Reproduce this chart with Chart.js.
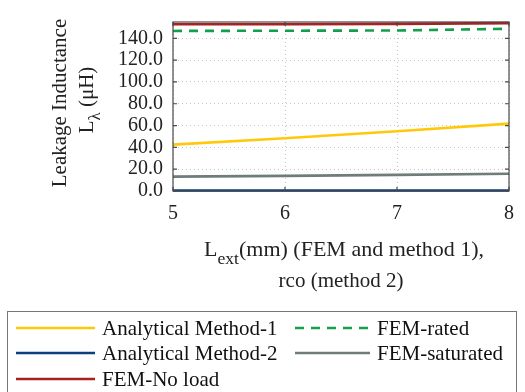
<!DOCTYPE html>
<html>
<head>
<meta charset="utf-8">
<script src="https://cdn.jsdelivr.net/npm/chart.js@4/dist/chart.umd.min.js"></script>
<style>
  html, body { margin: 0; padding: 0; background: #fff; overflow: hidden; }
</style>
</head>
<body>
<canvas id="chart" width="525" height="392"></canvas>
<script>
const xValues = [5, 6, 7, 8];
const method1 = [42.5, 48.4, 54.8, 61.8];
const method2 = [0.4, 0.4, 0.4, 0.4];
const femNoLoad = [153.0, 153.0, 153.3, 154.0];
const femRated = [146.8, 147.0, 147.2, 148.8];
const femSaturated = [13.2, 13.9, 14.8, 15.8];

const seriesNames = ['Analytical Method-1', 'Analytical Method-2', 'FEM-No load', 'FEM-rated', 'FEM-saturated'];
const seriesColors = ['#ffc90a', '#0c3d7e', '#a8201f', '#13a04b', '#6f7c7b'];

const FONT = '"Liberation Serif", "DejaVu Serif", serif';

function toPoints(values) {
    return values.map((v, i) => ({ x: xValues[i], y: v }));
}

// dark box with inward tick marks around the plot area
const boxPlugin = {
    id: 'box',
    afterDatasetsDraw(chart) {
        const { ctx, chartArea: a, scales } = chart;
        ctx.save();
        ctx.strokeStyle = '#4a4a4a';
        ctx.lineWidth = 1.2;
        ctx.strokeRect(a.left, a.top, a.right - a.left, a.bottom - a.top);
        ctx.beginPath();
        scales.y.ticks.forEach(t => {
            const py = scales.y.getPixelForValue(t.value);
            ctx.moveTo(a.left, py); ctx.lineTo(a.left + 4, py);
            ctx.moveTo(a.right, py); ctx.lineTo(a.right - 4, py);
        });
        scales.x.ticks.forEach(t => {
            const px = scales.x.getPixelForValue(t.value);
            ctx.moveTo(px, a.bottom); ctx.lineTo(px, a.bottom - 4);
            ctx.moveTo(px, a.top); ctx.lineTo(px, a.top + 4);
        });
        ctx.stroke();
        ctx.restore();
    }
};

// centred text made of pieces, some of them subscripts
function subText(ctx, parts, cx, cy, size) {
    let total = 0;
    const widths = parts.map(p => {
        ctx.font = (p.sub ? size * 0.8 : size) + 'px ' + FONT;
        const w = ctx.measureText(p.t).width;
        total += w;
        return w;
    });
    let x = cx - total / 2;
    parts.forEach((p, i) => {
        ctx.font = (p.sub ? size * 0.8 : size) + 'px ' + FONT;
        ctx.fillText(p.t, x, cy + (p.sub ? size * 0.42 : 0));
        x += widths[i];
    });
}

const titlesPlugin = {
    id: 'titles',
    afterDraw(chart) {
        const { ctx, chartArea: a } = chart;
        const cx = (a.left + a.right) / 2;
        ctx.save();
        ctx.fillStyle = '#222';
        ctx.textBaseline = 'middle';
        ctx.textAlign = 'left';
        subText(ctx, [{ t: 'L' }, { t: 'ext', sub: true }, { t: '(mm) (FEM and method 1),' }], cx + 3, 250, 22);
        subText(ctx, [{ t: 'rco (method 2)' }], cx, 281, 21);

        ctx.translate(60, 103);
        ctx.rotate(-Math.PI / 2);
        subText(ctx, [{ t: 'Leakage Inductance' }], 0, 0, 21);
        ctx.restore();

        ctx.save();
        ctx.fillStyle = '#222';
        ctx.textBaseline = 'middle';
        ctx.textAlign = 'left';
        ctx.translate(87, 100);
        ctx.rotate(-Math.PI / 2);
        subText(ctx, [{ t: 'L' }, { t: 'λ', sub: true }, { t: ' (μH)' }], 0, 0, 21);
        ctx.restore();
    }
};

// two-column boxed legend under the chart
const legendPlugin = {
    id: 'boxLegend',
    afterDraw(chart) {
        const { ctx } = chart;
        const ds = chart.data.datasets;
        const slots = [
            { col: 0, row: 0 }, { col: 0, row: 1 }, { col: 0, row: 2 },
            { col: 1, row: 0 }, { col: 1, row: 1 }
        ];
        const colX = [16, 295];
        const lineLen = [79, 75];
        const rowY = [328, 353, 379];
        ctx.save();
        ctx.strokeStyle = '#777';
        ctx.lineWidth = 1;
        ctx.strokeRect(7.5, 311.5, 509, 90);
        ctx.font = '21px ' + FONT;
        ctx.textBaseline = 'middle';
        ctx.textAlign = 'left';
        ctx.fillStyle = '#111';
        ds.forEach((d, i) => {
            const s = slots[i];
            const x = colX[s.col];
            const y = rowY[s.row];
            ctx.strokeStyle = d.borderColor;
            ctx.lineWidth = 2.6;
            ctx.setLineDash(d.borderDash || []);
            ctx.beginPath();
            ctx.moveTo(x, y);
            ctx.lineTo(x + lineLen[s.col], y);
            ctx.stroke();
            ctx.setLineDash([]);
            ctx.fillText(d.label, x + lineLen[s.col] + 7, y + 1);
        });
        ctx.restore();
    }
};

const allValues = [method1, method2, femNoLoad, femRated, femSaturated];

new Chart(document.getElementById('chart'), {
    type: 'line',
    data: {
        datasets: allValues.map((vals, i) => ({
            label: seriesNames[i],
            data: toPoints(vals),
            borderColor: seriesColors[i],
            backgroundColor: seriesColors[i],
            borderWidth: 2.6,
            borderDash: seriesNames[i] === 'FEM-rated' ? [9, 7] : [],
            pointRadius: 0,
            tension: 0,
            clip: false
        }))
    },
    options: {
        responsive: false,
        animation: false,
        layout: { padding: { top: 12, right: 7, left: 0, bottom: 0 } },
        plugins: { legend: { display: false }, tooltip: { enabled: false } },
        scales: {
            x: {
                type: 'linear',
                min: 5,
                max: 8,
                ticks: { stepSize: 1, autoSkip: false, padding: 11, color: '#222', font: { family: FONT, size: 20 } },
                grid: { color: '#c4c4c4', drawTicks: false },
                border: { display: true, color: 'rgba(0,0,0,0)', dash: [1, 3] },
                afterFit(scale) { scale.height = 201; }
            },
            y: {
                min: 0,
                max: 155,
                ticks: {
                    stepSize: 20,
                    autoSkip: false,
                    includeBounds: false,
                    padding: 10,
                    color: '#222',
                    font: { family: FONT, size: 20 },
                    callback: v => v.toFixed(1)
                },
                grid: { color: '#c4c4c4', drawTicks: false },
                border: { display: true, color: 'rgba(0,0,0,0)', dash: [1, 3] },
                afterFit(scale) { scale.width = 173; }
            }
        }
    },
    plugins: [boxPlugin, titlesPlugin, legendPlugin]
});
</script>
</body>
</html>
